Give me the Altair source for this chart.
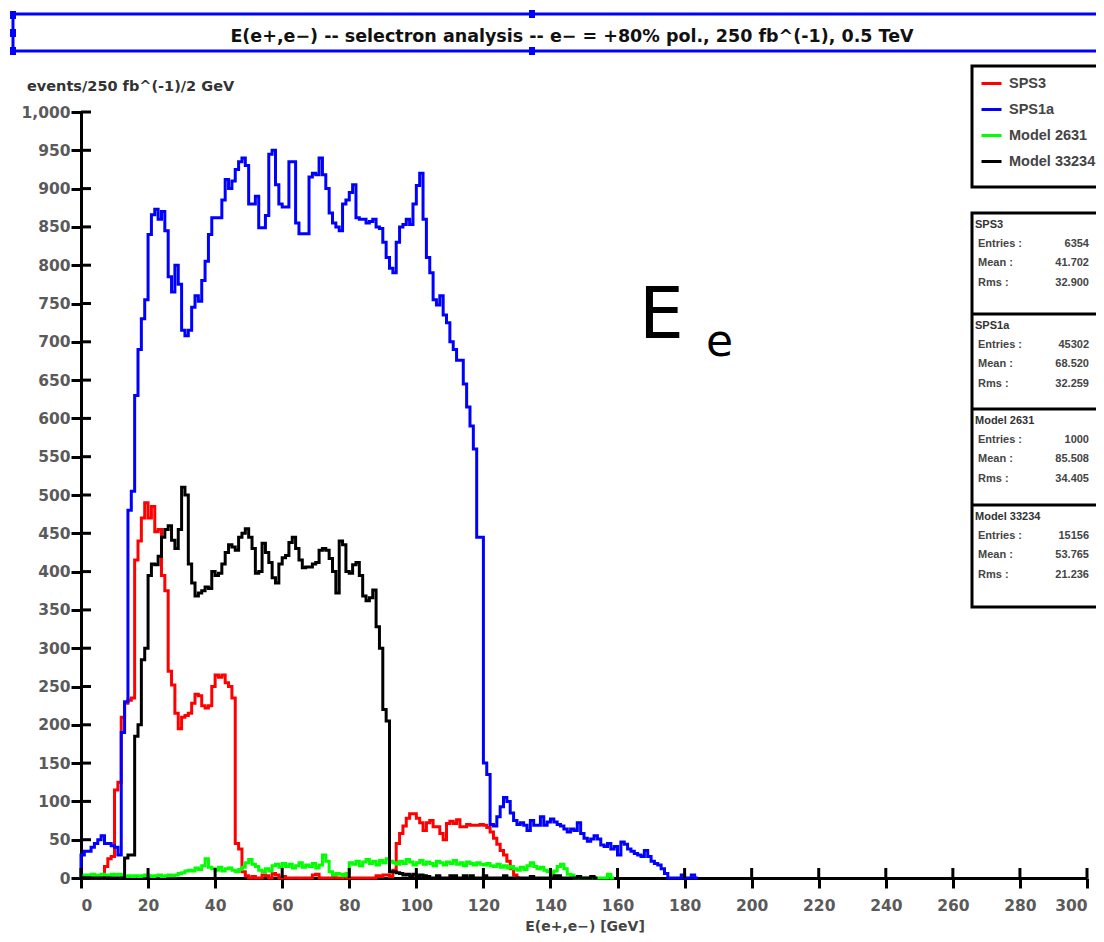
import altair as alt
import pandas as pd

# ---------------- data ----------------
series_names = ["SPS3", "SPS1a", "Model 2631", "Model 33234"]
series_colors = ["#ff0000", "#0000ff", "#00ff00", "#000000"]

# counts per 1 GeV bin, starting at E = 0
sps3 = [0, 0, 0, 0, 0, 0, 0, 15, 25, 28, 115, 125, 210, 228, 232, 235, 415, 440, 470, 490,
        470, 485, 452, 455, 395, 375, 270, 252, 215, 195, 210, 212, 215, 228, 240, 238, 225, 222, 225, 250,
        265, 262, 265, 255, 250, 235, 45, 38, 8, 3, 0, 2, 0, 0, 4, 3, 0, 6, 4, 0,
        2, 0, 0, 0, 0, 0, 0, 0, 0, 4, 5, 0, 0, 0, 0, 3, 0, 0, 4, 0,
        0, 0, 0, 0, 0, 0, 0, 0, 3, 2, 4, 4, 2, 10, 45, 58, 68, 78, 84, 84,
        78, 72, 62, 72, 75, 67, 67, 58, 50, 71, 74, 71, 76, 67, 67, 70, 69, 69, 69, 70,
        69, 66, 60, 52, 44, 36, 30, 22, 12, 4, 0]

sps1a = [30, 35, 35, 40, 45, 50, 55, 45, 45, 42, 40, 30, 190, 230, 480, 505, 630, 690, 730, 755,
         840, 866, 873, 860, 870, 845, 785, 765, 800, 775, 715, 708, 715, 745, 760, 753, 780, 805, 840, 862,
         862, 862, 885, 912, 900, 910, 925, 935, 940, 930, 880, 880, 890, 849, 849, 865, 945, 950, 905, 880,
         876, 876, 935, 935, 855, 841, 841, 841, 915, 920, 918, 940, 918, 900, 868, 855, 850, 845, 880, 885,
         895, 905, 862, 860, 860, 855, 857, 860, 850, 848, 830, 810, 796, 790, 830, 850, 853, 860, 853, 880,
         904, 920, 860, 810, 790, 755, 748, 760, 735, 725, 700, 690, 676, 676, 645, 615, 590, 560, 445, 445,
         150, 135, 70, 68, 80, 93, 105, 100, 85, 75, 70, 72, 69, 62, 75, 69, 69, 80, 69, 73,
         77, 73, 70, 68, 64, 60, 64, 62, 72, 58, 52, 48, 51, 55, 51, 43, 41, 45, 38, 41,
         30, 47, 44, 38, 35, 32, 30, 28, 36, 28, 22, 19, 17, 12, 6, 0, 0, 0, 0, 4,
         0, 0, 4, 0]

model_2631 = [3, 4, 3, 5, 4, 3, 5, 4, 3, 5, 4, 5, 3, 2, 3, 2, 3, 2, 3, 4,
              3, 2, 3, 4, 2, 3, 4, 3, 4, 6, 7, 9, 10, 9, 13, 11, 16, 25, 14, 12,
              10, 14, 9, 12, 13, 10, 8, 11, 14, 20, 24, 18, 15, 10, 8, 12, 9, 16, 18, 14,
              19, 15, 18, 13, 16, 20, 14, 17, 15, 19, 13, 17, 30, 22, 8, 4, 6, 5, 3, 6,
              20, 18, 22, 16, 21, 24, 19, 22, 17, 23, 20, 25, 22, 20, 18, 22, 19, 24, 21, 17,
              20, 23, 18, 21, 19, 16, 22, 20, 17, 21, 19, 23, 18, 20, 16, 21, 19, 17, 20, 18,
              17, 19, 16, 15, 18, 14, 16, 13, 15, 12, 10, 14, 11, 16, 20, 15, 12, 14, 10, 8,
              7, 9, 15, 18, 12, 5, 4, 0, 0, 0, 0, 0, 0, 0, 0, 0, 0, 5, 0]

model_33234 = [0, 0, 0, 0, 0, 0, 0, 0, 0, 0, 0, 0, 0, 26, 30, 30, 185, 200, 285, 300,
               395, 410, 409, 420, 445, 455, 460, 441, 430, 455, 510, 500, 410, 385, 368, 372, 375, 380, 378, 400,
               395, 398, 410, 425, 435, 432, 428, 445, 450, 456, 445, 430, 398, 400, 437, 425, 412, 392, 385, 410,
               418, 421, 438, 445, 430, 415, 405, 406, 406, 410, 412, 428, 430, 428, 417, 400, 372, 440, 435, 400,
               398, 409, 412, 395, 368, 362, 366, 376, 328, 300, 220, 205, 8, 8, 7, 6, 4, 5, 3, 5,
               3, 4, 3, 2, 0, 0, 3, 0, 0, 0, 3, 3, 0, 0, 3, 0, 3, 0, 0, 0,
               3, 0, 0, 0, 0, 0, 3, 0, 0, 0, 0, 0, 0, 0, 2, 0, 0, 0, 0, 0,
               0, 3, 3, 0, 0, 0, 0, 0, 2, 0, 0, 0, 2, 0]

series_values = [sps3, sps1a, model_2631, model_33234]
bin_width = 1.0

stats_entries = ["6354", "45302", "1000", "15156"]
stats_mean = ["41.702", "68.520", "85.508", "53.765"]
stats_rms = ["32.900", "32.259", "34.405", "21.236"]

x_ticks = list(range(0, 301, 20))
y_ticks = list(range(0, 1001, 50))

title_text = "E(e+,e\u2212) -- selectron analysis -- e\u2212 = +80% pol., 250 fb^(-1), 0.5 TeV"
y_title = "events/250 fb^(-1)/2 GeV"
x_title = "E(e+,e\u2212) [GeV]"

# ---------------- build tables ----------------
def hist_frame(name, vals):
    rows = [{"E": 0.0, "n": 0, "series": name, "i": -1}]
    for k, v in enumerate(vals):
        rows.append({"E": k * bin_width, "n": v, "series": name, "i": k})
    rows.append({"E": len(vals) * bin_width, "n": 0, "series": name, "i": len(vals)})
    return pd.DataFrame(rows)

W, H = 1006, 766
xscale = alt.Scale(domain=[0, 300], nice=False, zero=False)
yscale = alt.Scale(domain=[0, 1000], nice=False)
cscale = alt.Scale(domain=series_names, range=series_colors)

TICKFONT = "DejaVu Sans"
axis_common = dict(domainColor="black", domainWidth=3, tickColor="black", tickWidth=3, tickSize=10,
                   labelFont=TICKFONT, labelFontWeight="bold", labelFontSize=15.5, labelColor="#5a5a5a",
                   grid=False, title=None, format=",d")
x_axis = alt.Axis(values=x_ticks, labelPadding=10, **axis_common)
y_axis = alt.Axis(values=y_ticks, labelPadding=1, **axis_common)
legend = alt.Legend(orient="none", legendX=980 - 81, legendY=72 - 112, title=None,
                    symbolType="stroke", symbolSize=400, symbolStrokeWidth=3,
                    labelFont="Liberation Sans", labelFontWeight="bold", labelFontSize=14.5,
                    labelColor="#444444", labelOffset=6, rowPadding=8, padding=0)

layers = []

def rect(x1, x2, y1, y2, fill, stroke=None, sw=0):
    kw = dict(fill=fill)
    if stroke:
        kw.update(stroke=stroke, strokeWidth=sw)
    return alt.Chart(alt.Data(values=[{}])).mark_rect(**kw).encode(
        x=alt.value(x1), x2=alt.value(x2), y=alt.value(y1), y2=alt.value(y2))

def text(t, x, y, size, weight="normal", align="left", color="#000000", font="DejaVu Sans", baseline="middle"):
    return alt.Chart(alt.Data(values=[{"t": t}])).mark_text(
        align=align, baseline=baseline, fontSize=size, fontWeight=weight, color=color, font=font
    ).encode(x=alt.value(x), y=alt.value(y), text="t:N")

OX, OY = 81, 112  # page position of plot origin

# title box with selection handles
layers.append(rect(13 - OX, 1200, 14 - OY, 51 - OY, "white", "#0000ff", 3))
for hx, hy in [(13, 15), (13, 33), (13, 51), (532, 14), (532, 51)]:
    layers.append(rect(hx - 3 - OX, hx + 3 - OX, hy - 4 - OY, hy + 4 - OY, "#0000ff"))
layers.append(text(title_text, 572 - OX, 37 - OY, 17.5, "bold", "center", "#111111"))

# histograms
for name, vals in zip(series_names, series_values):
    layers.append(alt.Chart(hist_frame(name, vals)).mark_line(
        interpolate="step-after", strokeWidth=3, strokeJoin="miter").encode(
        x=alt.X("E:Q", scale=xscale, axis=x_axis),
        y=alt.Y("n:Q", scale=yscale, axis=y_axis),
        color=alt.Color("series:N", scale=cscale, legend=legend),
        order=alt.Order("i:Q"),
    ))

# inner halves of the axis ticks
layers.append(alt.Chart(pd.DataFrame({"E": y_ticks})).mark_rule(color="black", strokeWidth=3).encode(
    y=alt.Y("E:Q", scale=yscale, axis=y_axis), x=alt.value(0), x2=alt.value(10)))
layers.append(alt.Chart(pd.DataFrame({"E": x_ticks})).mark_rule(color="black", strokeWidth=3).encode(
    x=alt.X("E:Q", scale=xscale, axis=x_axis), y=alt.value(H - 10), y2=alt.value(H)))

# axis titles
layers.append(text(y_title, 27 - OX, 87 - OY, 14.5, "bold", "left", "#333333"))
layers.append(text(x_title, 585 - OX, 927 - OY, 14, "bold", "center", "#444444"))

# big label
layers.append(text("E", 639 - OX, 338 - OY, 71, "normal", "left", "#000000", "DejaVu Sans", "alphabetic"))
layers.append(text("e", 706 - OX, 356 - OY, 44, "normal", "left", "#000000", "DejaVu Sans", "alphabetic"))

# legend box
layers.append(rect(972 - OX, 1200, 66 - OY, 187 - OY, "transparent", "black", 3))

# statistics boxes
box_tops = [213, 314, 409, 505]
box_bottom = 607
layers.append(rect(972 - OX, 1200, box_tops[0] - OY, box_bottom - OY, "white", "black", 3))
for t in box_tops[1:]:
    layers.append(alt.Chart(alt.Data(values=[{}])).mark_rule(color="black", strokeWidth=3).encode(
        x=alt.value(972 - OX), x2=alt.value(1200), y=alt.value(t - OY)))
SF = "Liberation Sans"
for name, ent, mean, rms, t in zip(series_names, stats_entries, stats_mean, stats_rms, box_tops):
    y0 = t - OY
    layers.append(text(name, 975 - OX, y0 + 12, 11, "bold", "left", "#333333", SF))
    for lab, val, dy in [("Entries :", ent, 30.5), ("Mean :", mean, 50), ("Rms :", rms, 69.5)]:
        layers.append(text(lab, 978 - OX, y0 + dy, 11, "bold", "left", "#444444", SF))
        layers.append(text(val, 1089 - OX, y0 + dy, 11, "bold", "right", "#444444", SF))

chart = alt.layer(*layers).properties(
    width=W, height=H,
    autosize=alt.AutoSizeParams(type="none"),
    padding={"left": 73, "top": 104, "right": 9, "bottom": 55},
    background="white",
).configure_view(stroke=None)

chart.save("out.html", embed_options={"renderer": "svg", "actions": False})
